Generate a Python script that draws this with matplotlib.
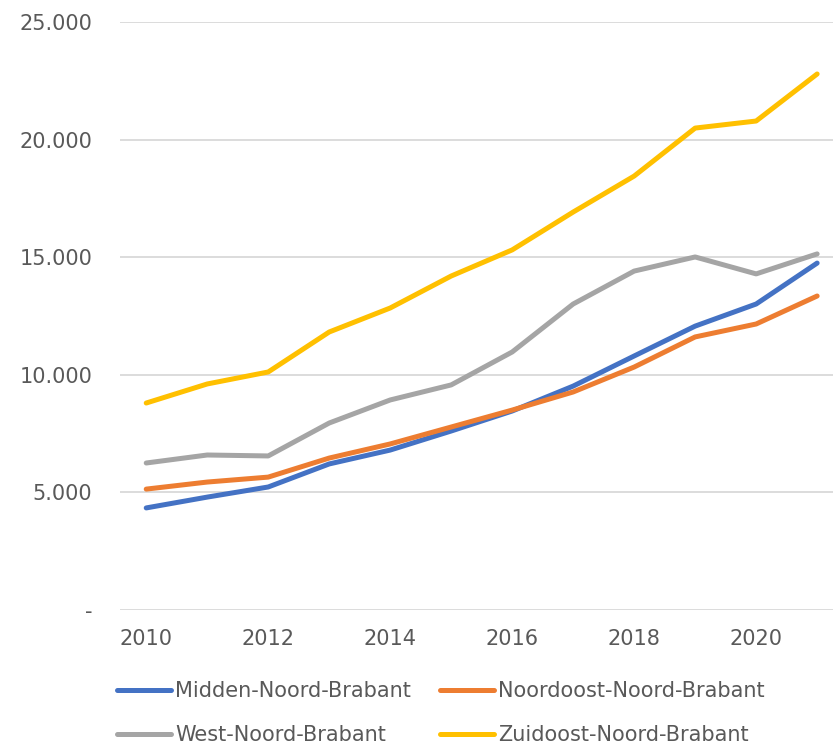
import numpy as np
import matplotlib.pyplot as plt
from matplotlib.ticker import FuncFormatter

years = np.arange(2010, 2022)
midden = [4340, 4800, 5230, 6210, 6800, 7610, 8460, 9520, 10800, 12070, 13010, 14750]
noordoost = [5140, 5440, 5650, 6460, 7060, 7780, 8500, 9270, 10330, 11610, 12160, 13350]
west = [6250, 6590, 6550, 7950, 8930, 9570, 10970, 13010, 14410, 15010, 14290, 15140]
zuidoost = [8800, 9610, 10120, 11820, 12840, 14200, 15310, 16920, 18450, 20490, 20790, 22790]

plt.rcParams['font.family'] = ['DejaVu Sans']
txt = '#595959'
fs = 15

fig = plt.figure(figsize=(8.33, 7.44), dpi=100)
ax = fig.add_axes([120/833, 1 - 610/744, 1 - 120/833, (610 - 22)/744])

lw = 3.6
l1, = ax.plot(years, midden, color='#4472C4', lw=lw, solid_capstyle='round', label='Midden-Noord-Brabant')
l2, = ax.plot(years, noordoost, color='#ED7D31', lw=lw, solid_capstyle='round', label='Noordoost-Noord-Brabant')
l3, = ax.plot(years, west, color='#A5A5A5', lw=lw, solid_capstyle='round', label='West-Noord-Brabant')
l4, = ax.plot(years, zuidoost, color='#FFC000', lw=lw, solid_capstyle='round', label='Zuidoost-Noord-Brabant')

ax.set_xlim(2009.57, 2021.26)
ax.set_ylim(0, 25000)
ax.set_yticks(np.arange(0, 25001, 5000))
ax.yaxis.set_major_formatter(FuncFormatter(lambda v, p: '-' if v == 0 else f'{int(v):,}'.replace(',', '.')))
ax.set_xticks(np.arange(2010, 2021, 2))
ax.grid(axis='y', color='#D9D9D9', lw=1.3)
ax.set_axisbelow(True)
for s in ax.spines.values():
    s.set_visible(False)
ax.tick_params(axis='both', length=0, labelsize=fs, labelcolor=txt)
ax.tick_params(axis='y', pad=20)
ax.tick_params(axis='x', pad=14)

kw = dict(ncol=1, loc='upper left', frameon=False, fontsize=fs, labelcolor=txt,
          handlelength=2.6, handletextpad=0.2, labelspacing=1.15, borderpad=0, borderaxespad=0)
leg1 = fig.legend(handles=[l1, l3], bbox_to_anchor=(117/833, 1 - 681/744), **kw)
leg2 = fig.legend(handles=[l2, l4], bbox_to_anchor=(440/833, 1 - 681/744), **kw)

fig.savefig('out.png', dpi=100)
